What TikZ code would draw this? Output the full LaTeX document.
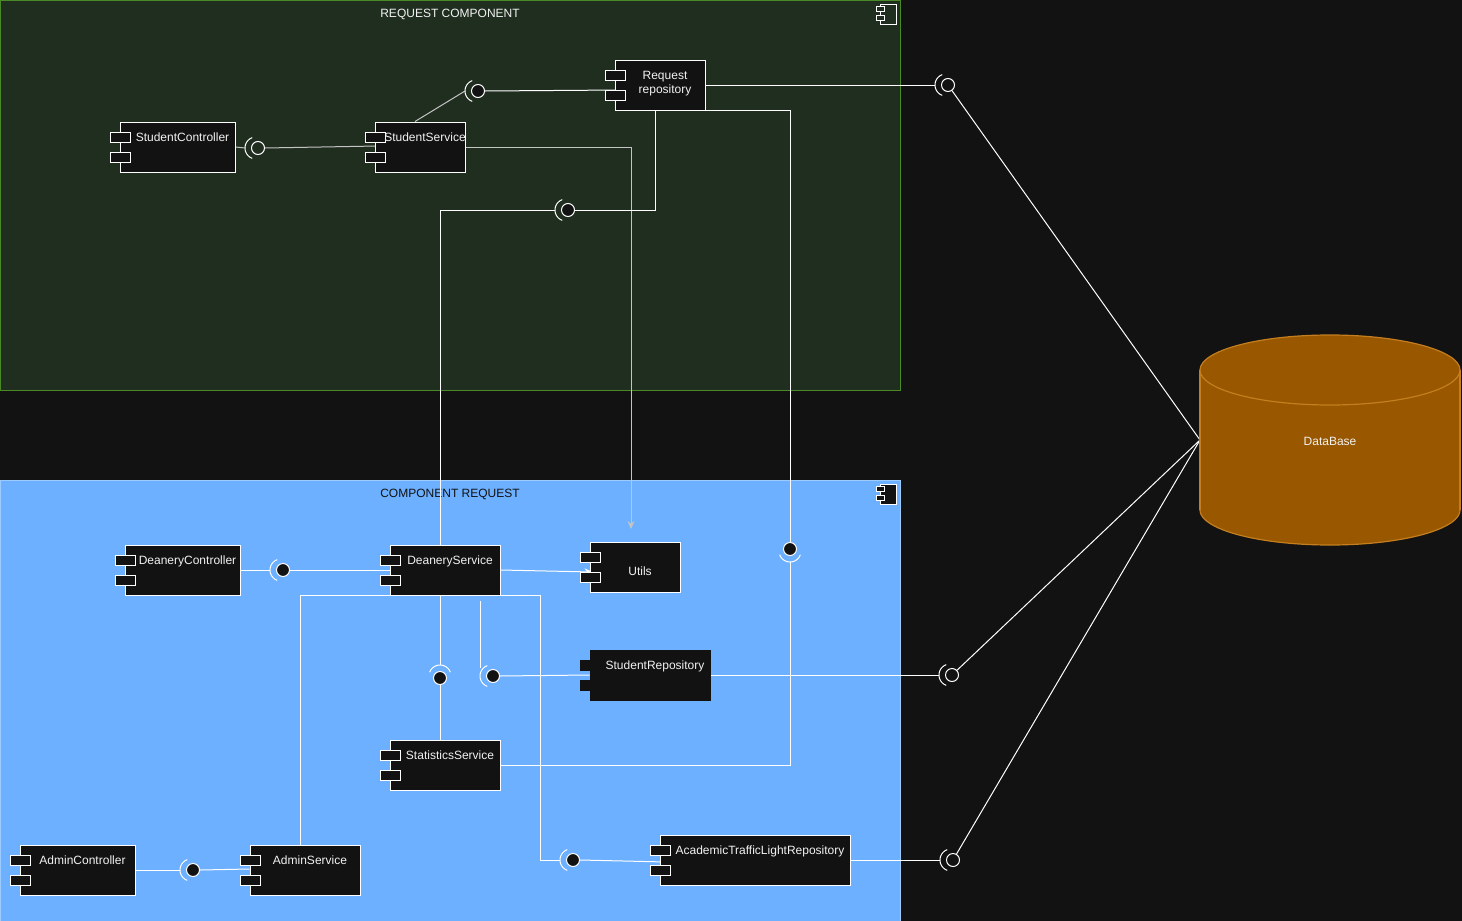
\documentclass[tikz,border=0pt]{standalone}
\usepackage{fontspec}
\setmainfont{Liberation Sans}
\usetikzlibrary{arrows.meta,calc}
\definecolor{pagebg}{HTML}{121212}
\definecolor{greenfill}{HTML}{1F2E1F}
\definecolor{greenline}{HTML}{4A8A26}
\definecolor{bluefill}{HTML}{6CB0FF}
\definecolor{blueline}{HTML}{9CCBFF}
\definecolor{dbfill}{HTML}{995700}
\definecolor{dbline}{HTML}{C47E1E}
\definecolor{greyline}{HTML}{C4C4C4}
\definecolor{textwhite}{HTML}{F2F2F2}
\pgfdeclarelayer{back}
\pgfdeclarelayer{edges}
\pgfsetlayers{back,edges,main}
\tikzset{
  compnode/.style={draw=white, fill=pagebg, minimum height=50, inner sep=0, line width=1pt},
  tabbox/.style={draw=white, fill=pagebg, line width=1pt},
  comptext/.style={text=textwhite, font=\fontsize{12}{14}\selectfont, inner sep=0, anchor=base},
  ball/.style={circle, draw=white, fill=pagebg, minimum size=13, inner sep=0, line width=1pt},
  sock/.style={draw=white, line width=1pt},
  conn/.style={draw=white, line width=1pt},
  gconn/.style={draw=greyline, line width=1pt},
  arr/.style={-{Stealth[length=8pt,width=7pt]}},
  ctitle/.style={font=\fontsize{12}{14}\selectfont, inner sep=0, anchor=base},
}
% #1 name, #2 left, #3 top, #4 width, #5 baseline offset, #6 text, #7 extra style
\newcommand{\compbox}[7]{%
  \node[compnode, minimum width=#4, #7] (#1) at ({#2+#4/2},{#3+25}) {};
  \draw[tabbox, #7] ({#2-10},{#3+10}) rectangle ({#2+10},{#3+20});
  \draw[tabbox, #7] ({#2-10},{#3+30}) rectangle ({#2+10},{#3+40});
  \node[comptext] (#1-t) at ({(#2+10+#2+#4)/2},{#3+#5}) {#6};
}
% socket arc: #1 x, #2 y of ball centre, #3 direction of the arc side
\newcommand{\socketarc}[3]{%
  \draw[sock] plot[domain={#3-70}:{#3+70}, samples=30, smooth]
    ({#1+2*cos(#3)+11*cos(\x)},{#2+2*sin(#3)+11*sin(\x)});
}
% component icon: #1 x, #2 y, #3 fill
\newcommand{\compicon}[3]{%
  \draw[white, line width=1pt, fill=#3] (#1,#2) rectangle ({#1+16},{#2+20});
  \draw[white, line width=1pt, fill=#3] ({#1-4},{#2+2}) rectangle ({#1+4},{#2+7});
  \draw[white, line width=1pt, fill=#3] ({#1-4},{#2+11}) rectangle ({#1+4},{#2+16});
}
\begin{document}
\begin{tikzpicture}[x=1pt,y=-1pt]
\useasboundingbox (0,0) rectangle (1462,921);
\begin{pgfonlayer}{back}
  \fill[pagebg] (0,0) rectangle (1462,921);
  % containers
  \draw[greenline, fill=greenfill, line width=1pt] (0,0) rectangle (900,390);
  \node[ctitle, text=textwhite] (t1) at (450,17.5) {REQUEST COMPONENT};
  \compicon{880.5}{4.5}{greenfill}
  \draw[blueline, fill=bluefill, line width=1pt] (0,480) rectangle (900,921);
  \node[ctitle, text=pagebg] (t2) at (450,497.5) {COMPONENT REQUEST};
  \compicon{880.5}{484.5}{pagebg}
\end{pgfonlayer}

% components
\compbox{sc}{120}{122}{115}{19.5}{StudentController}{}
\compbox{ss}{375}{122}{90}{19.5}{StudentService}{}
\compbox{rr}{615}{60}{90}{19.5}{}{}
\node[comptext] (rr-t1) at (665,79) {Request};
\node[comptext] (rr-t2) at (665,93) {repository};
\compbox{dc}{125}{545}{115}{19.5}{DeaneryController}{}
\compbox{ds}{390}{545}{110}{19.5}{DeaneryService}{}
\compbox{ut}{590}{542}{90}{33}{Utils}{}
\compbox{sr}{590}{650}{120}{19.5}{StudentRepository}{draw=pagebg}
\compbox{st}{390}{740}{110}{19.5}{StatisticsService}{}
\compbox{ac}{20}{845}{115}{19.5}{AdminController}{}
\compbox{as}{250}{845}{110}{19.5}{AdminService}{}
\compbox{atl}{660}{835}{190}{19.5}{AcademicTrafficLightRepository}{}

% database
\fill[dbfill] (1330,510) ellipse [x radius=130, y radius=35];
\fill[dbfill] (1200,370) rectangle (1460,510);
\draw[dbline, line width=1.2pt] (1200,370) -- (1200,510);
\draw[dbline, line width=1.2pt] (1460,370) -- (1460,510);
\draw[dbline, line width=1.2pt] plot[domain=0:180, samples=60, smooth] ({1330+130*cos(\x)},{510+35*sin(\x)});
\draw[dbline, fill=dbfill, line width=1.2pt] (1330,370) ellipse [x radius=130, y radius=35];
\node[comptext] (db) at (1330,445) {DataBase};
\coordinate (dbw) at (1200,440);

% interface balls
\node[ball, fill=greenfill] (b1) at (258,148) {};
\node[ball] (b2) at (478,91) {};
\node[ball] (b3) at (568,210) {};
\node[ball] (b4) at (948,85) {};
\node[ball] (b5) at (283,570) {};
\node[ball] (b6) at (790,549) {};
\node[ball] (b7) at (440,678) {};
\node[ball] (b8) at (493,676) {};
\node[ball] (b9) at (952,675) {};
\node[ball] (b10) at (573,860) {};
\node[ball] (b11) at (953,860) {};
\node[ball] (b12) at (193,870) {};
\socketarc{258}{148}{180}
\socketarc{478}{91}{180}
\socketarc{568}{210}{180}
\socketarc{948}{85}{180}
\socketarc{283}{570}{180}
\socketarc{790}{549}{90}
\socketarc{440}{678}{270}
\socketarc{493}{676}{180}
\socketarc{952}{675}{180}
\socketarc{573}{860}{180}
\socketarc{953}{860}{180}
\socketarc{193}{870}{180}

\coordinate (uin) at (631,529);

\begin{pgfonlayer}{edges}
  % top component
  \draw[gconn] (sc.east) -- ([shift={(180:13)}]b1.center);
  \draw[gconn] (b1.east) -- ([shift={(3,-1)}]ss.west);
  \draw[gconn] ([shift={(-5,0)}]ss.north) -- ([shift={(180:13)}]b2.center);
  \draw[conn] (b2.east) -- ([shift={(7,5)}]rr.west);
  \draw[gconn, arr] (ss.east) -| (uin);
  \draw[conn] ([shift={(-5,0)}]rr.south) |- (b3.east);
  \draw[conn] ([shift={(180:13)}]b3.center) -| ([shift={(270:13)}]b7.center);
  \draw[conn] (b7.south) -- (b7.south |- st.north);
  \draw[conn] (rr.east) -- ([shift={(180:13)}]b4.center);
  \draw[conn] (b4) -- (dbw);
  \draw[conn] (rr.south east) -| (b6.north);
  \draw[conn] ([shift={(90:13)}]b6.center) |- (st.east);
  % bottom component
  \draw[conn] (dc.east) -- ([shift={(180:13)}]b5.center);
  \draw[conn] (b5.east) -- ([shift={(7,0)}]ds.west);
  \draw[conn, arr] (ds.east) -- ([shift={(3,5)}]ut.west);
  \draw[conn] ([shift={(35,5)}]ds.south) -- ([shift={(-13,-8)}]b8.center);
  \draw[conn] (b8.east) -- (sr.west);
  \draw[conn] (sr.east) -- ([shift={(180:13)}]b9.center);
  \draw[conn] (b9) -- (dbw);
  \draw[conn] ([shift={(-5,0)}]as.north) |- ([shift={(95,0)}]ds.south) |- ([shift={(180:13)}]b10.center);
  \draw[conn] (b10.east) -- ([shift={(7,2)}]atl.west);
  \draw[conn] (atl.east) -- ([shift={(180:13)}]b11.center);
  \draw[conn] (b11) -- (dbw);
  \draw[conn] (ac.east) -- ([shift={(180:13)}]b12.center);
  \draw[conn] (b12.east) -- ([shift={(0,-1)}]as.west);
\end{pgfonlayer}
\end{tikzpicture}
\end{document}
